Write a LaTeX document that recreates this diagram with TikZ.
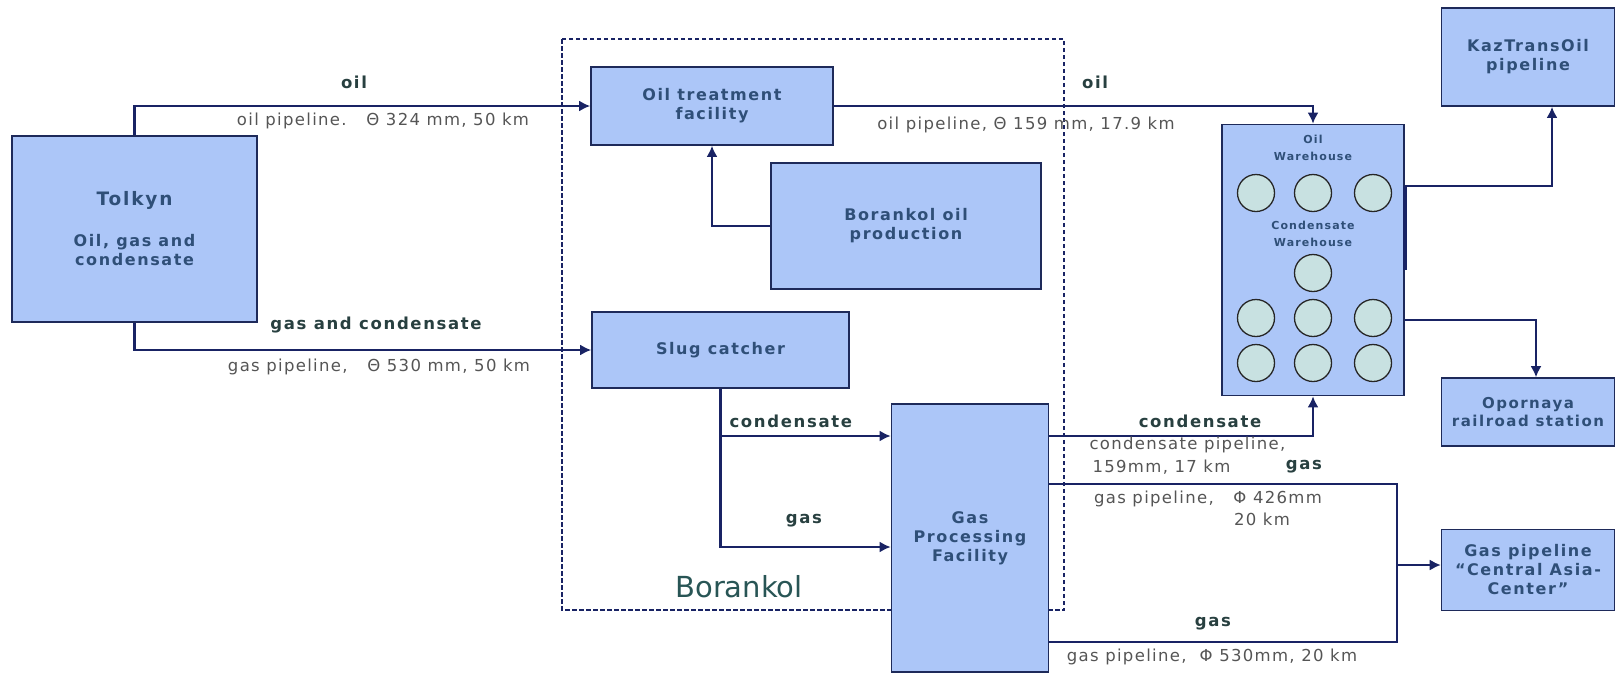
\documentclass[tikz,border=0pt]{standalone}
\usepackage{fontspec}
\setmainfont{DejaVu Sans}
\newfontfamily\wideface{DejaVu Sans}[LetterSpace=10]
\newfontfamily\pipeface{DejaVu Sans}[LetterSpace=8]
\usepackage{xcolor}
\usetikzlibrary{arrows.meta,positioning,calc}

\definecolor{boxfill}{RGB}{172,198,248}
\definecolor{boxline}{RGB}{30,42,90}
\definecolor{boxtext}{RGB}{47,79,120}
\definecolor{flowtext}{RGB}{40,64,64}
\definecolor{pipetext}{RGB}{85,85,85}
\definecolor{pipeline}{RGB}{25,35,100}
\definecolor{tankfill}{RGB}{200,225,225}
\definecolor{areatext}{RGB}{40,85,85}

\begin{document}
\begin{tikzpicture}[x=1pt, y=-1pt,
  unit/.style={rectangle, draw=boxline, line width=1.6pt, fill=boxfill, align=center,
               font=\wideface\bfseries\fontsize{16}{19}\selectfont, text=boxtext, inner sep=0pt},
  tank/.style={circle, draw=black!85, line width=1.3pt, fill=tankfill, minimum size=37pt, inner sep=0pt},
  flow/.style={font=\wideface\bfseries\fontsize{16.5}{18}\selectfont, text=flowtext},
  pipe/.style={font=\pipeface\fontsize{16.5}{20}\selectfont, text=pipetext, align=center},
  arr/.style={-{Latex[length=11pt,width=11pt]}, line width=2.8pt, draw=pipeline},
  thinarr/.style={-{Latex[length=11pt,width=11pt]}, line width=1.6pt, draw=pipeline},
  frame/.style={draw=pipeline, line width=2.2pt, dash pattern=on 4.5pt off 2.5pt}
]
\useasboundingbox (0,0) rectangle (1617,673);

% Borankol site
\draw[frame] (562,39) rectangle (1064,610);
\node[font=\fontsize{29}{31}\selectfont, text=areatext] (borankol) at (739,587) {Borankol};

\node[unit, minimum width=245pt, minimum height=186pt] (tolkyn) at (134.5,229)
  {{\fontsize{18.5}{20}\selectfont Tolkyn}\\[22pt]Oil, gas and\\condensate};
\node[unit, minimum width=242pt, minimum height=78pt] (otf) at (712,106) {Oil treatment\\facility};
\node[unit, minimum width=270pt, minimum height=126pt] (bop) at (906,226) {Borankol oil\\production};
\node[unit, minimum width=257pt, minimum height=76pt] (slug) at (720.5,350) {Slug catcher};
\node[unit, minimum width=157pt, minimum height=268pt] (gpf) at (970,538) {Gas\\Processing\\Facility};

% warehouse with tanks
\node[unit, minimum width=182pt, minimum height=271pt] (wh) at (1313,260) {};
\node[unit, draw=none, fill=none, font=\wideface\bfseries\fontsize{11}{17}\selectfont] (whoil) at (1313,148) {Oil\\Warehouse};
\node[unit, draw=none, fill=none, font=\wideface\bfseries\fontsize{11}{17}\selectfont] (whcond) at (1313,234) {Condensate\\Warehouse};
\foreach \i/\x/\y in {1/1256/193, 2/1313/193, 3/1373/193, 4/1313/273,
                      5/1256/318, 6/1313/318, 7/1373/318,
                      8/1256/363, 9/1313/363, 10/1373/363}
  \node[tank] (tank\i) at (\x,\y) {};

\node[unit, minimum width=173pt, minimum height=98pt] (kto) at (1528,57) {KazTransOil\\pipeline};
\node[unit, minimum width=173pt, minimum height=68pt, font=\wideface\bfseries\fontsize{15}{18}\selectfont] (opo) at (1528,412) {Opornaya\\railroad station};
\node[unit, minimum width=173pt, minimum height=81pt] (cac) at (1528,570) {Gas pipeline\\“Central Asia-\\Center”};

% Tolkyn to Borankol
\draw[arr] (tolkyn.north) |- (otf.west);
\draw[arr] (tolkyn.south) |- (slug.west);
\node[flow] (oil1) at (354,82) {oil};
\node[pipe] (pipe1) at (383,121) {oil pipeline.\ \ \ Θ 324 mm, 50 km};
\node[flow] (gc1) at (376,325) {gas and condensate};
\node[pipe] (pipe2) at (379,367) {gas pipeline,\ \ \ Θ 530 mm, 50 km};

% oil
\draw[arr] (bop.west) -| (otf.south);
\draw[arr] (otf.east) -| (wh.north);
\node[flow] (oil2) at (1095,82) {oil};
\node[pipe] (pipe3) at (1026,125) {oil pipeline, Θ 159 mm, 17.9 km};

% slug catcher to gas processing
\coordinate (gin1) at ([yshift=102pt]gpf.west);
\coordinate (gin2) at ([yshift=-9pt]gpf.west);
\draw[arr] (slug.south) |- (gin2);
\draw[arr] (slug.south |- gin1) -- (gin1);
\node[flow, anchor=west] (cond1) at (726,421) {condensate};
\node[flow] (gas1) at (804,521) {gas};

% gas processing outputs
\coordinate (gout1) at ([yshift=102pt]gpf.east);
\draw[arr] (gout1) -| (wh.south);
\node[flow] (cond2) at (1200,421) {condensate};
\node[pipe, anchor=west] (pipe4) at (1086,445) {condensate pipeline,};
\node[pipe, anchor=west] (pipe5) at (1089,467) {159mm, 17 km};
\node[flow] (gas2) at (1304,467) {gas};

\coordinate (gj) at (1397,565);
\draw[line width=1.6pt, draw=pipeline] ([yshift=54pt]gpf.east) -| (gj) |- ([yshift=-104pt]gpf.east);
\draw[thinarr] (gj) -- (gj -| cac.west);
\node[pipe] (pipe6) at (1208,499) {gas pipeline,\ \ \ Φ 426mm};
\node[pipe] (pipe6b) at (1262,519) {20 km};
\node[flow] (gas3) at (1213,624) {gas};
\node[pipe] (pipe7) at (1212,657) {gas pipeline,\ \ Φ 530mm, 20 km};

% warehouse outputs
\draw[line width=3.5pt, draw=pipeline] ([yshift=74pt]wh.east) -- ([yshift=-10pt]wh.east);
\draw[arr] ([yshift=74pt]wh.east) -| ([xshift=24pt]kto.south);
\draw[thinarr, line width=2pt] ([yshift=-60pt]wh.east) -| ([xshift=8pt]opo.north);

\end{tikzpicture}
\end{document}
